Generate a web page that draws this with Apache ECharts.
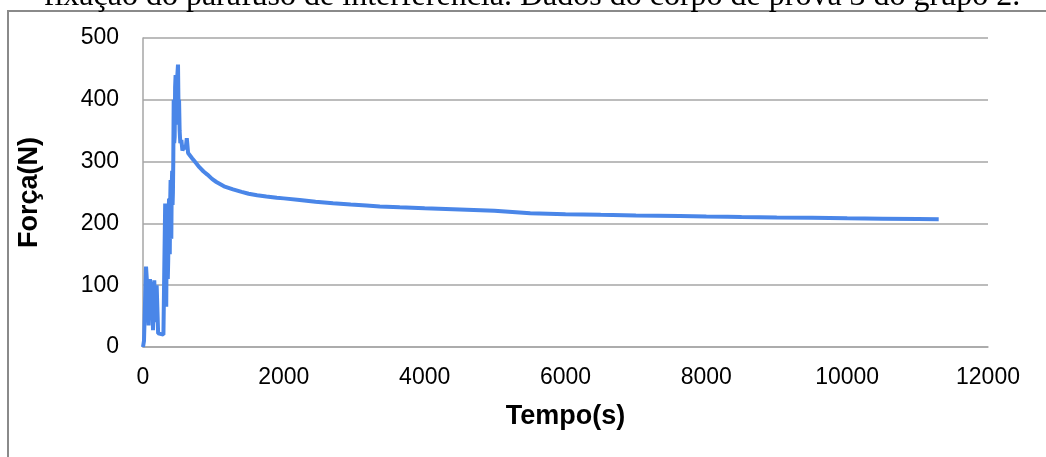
<!DOCTYPE html>
<html>
<head>
<meta charset="utf-8">
<script src="https://cdn.jsdelivr.net/npm/echarts@6/dist/echarts.min.js"></script>
<style>
html,body{margin:0;padding:0;background:#fff;}
#chart{width:1046px;height:457px;}
</style>
</head>
<body>
<div id="chart"></div>
<script>
const captionText = 'fixação do parafuso de interferência. Dados do corpo de prova 3 do grupo 2.';
const xAxisName = 'Tempo(s)';
const yAxisName = 'Força(N)';
const xTicks = [0, 2000, 4000, 6000, 8000, 10000, 12000];
const yTicks = [0, 100, 200, 300, 400, 500];

const timeS = [0, 14, 43, 62, 80, 99, 115, 130, 142, 160, 180, 194, 215, 240, 290,
  305, 315, 322, 330, 338, 345, 352, 358, 364, 370, 375, 380, 386, 392, 397, 402,
  408, 414, 420, 425, 430, 436, 443, 450, 456, 463, 470, 478, 488, 497,
  505, 512, 520, 530, 545, 560, 575, 590, 605, 622, 632, 640, 660, 700, 750, 800,
  860, 914, 980, 1042, 1150, 1278,
  1400, 1500, 1620, 1752, 1900, 2000, 2226, 2450, 2699, 2950, 3173, 3363, 3646,
  4000, 4500, 4990, 5010, 5500, 6000, 6500, 7000, 7623,
  8000, 8300, 8500, 9000, 9500, 10000, 10500, 11000, 11300];
const forceN = [0, 10, 130, 95, 35, 110, 45, 105, 27, 108, 40, 100, 22, 20, 20,
  150, 232, 120, 65, 200, 232, 110, 140, 220, 240, 170, 150, 235, 270, 190, 175,
  260, 285, 230, 250, 300, 400, 330, 340, 420, 440, 360, 375, 440, 457,
  380, 400, 350, 330, 335, 318, 322, 326, 320, 338, 325, 314, 311, 305, 298, 291,
  284, 279, 272, 267, 260, 255,
  251, 248, 245.5, 243.5, 241.5, 240.5, 238, 235, 232.5, 230.5, 229, 227.5, 226,
  224.5, 222.5, 220.5, 218.5, 216.5, 215, 213.8, 212.8, 211.8,
  211, 210.8, 210.3, 209.6, 209, 208.2, 207.6, 207, 206.6];

const seriesData = timeS.map((t, i) => [t, forceN[i]]);
const labelFont = '"Liberation Sans", Arial, sans-serif';

const chart = echarts.init(document.getElementById('chart'), null, {renderer: 'canvas'});
chart.setOption({
  animation: false,
  backgroundColor: '#ffffff',
  graphic: [
    {
      type: 'rect',
      shape: {x: 8, y: 11, width: 1200, height: 600},
      style: {fill: 'none', stroke: '#8a8a8a', lineWidth: 2},
      silent: true
    },
    {
      type: 'text',
      x: 532,
      y: 13,
      style: {
        text: captionText,
        align: 'center',
        verticalAlign: 'bottom',
        font: '32px "Liberation Serif", "Times New Roman", serif',
        fill: '#000'
      },
      silent: true
    }
  ],
  grid: {left: 143, right: 58, top: 38, bottom: 110, containLabel: false},
  xAxis: {
    type: 'value',
    min: xTicks[0],
    max: xTicks[xTicks.length - 1],
    interval: xTicks[1] - xTicks[0],
    name: xAxisName,
    nameLocation: 'middle',
    nameGap: 56,
    nameTextStyle: {fontFamily: labelFont, fontSize: 27, fontWeight: 'bold', color: '#000'},
    axisLine: {show: true, lineStyle: {color: '#a6a6a6', width: 1.5}},
    axisTick: {show: false},
    splitLine: {show: false},
    axisLabel: {fontFamily: labelFont, fontSize: 23, color: '#000', margin: 19,
      formatter: v => String(v)}
  },
  yAxis: {
    type: 'value',
    min: yTicks[0],
    max: yTicks[yTicks.length - 1],
    interval: yTicks[1] - yTicks[0],
    name: yAxisName,
    nameLocation: 'middle',
    nameGap: 100,
    nameTextStyle: {fontFamily: labelFont, fontSize: 27, fontWeight: 'bold', color: '#000'},
    axisLine: {show: true, lineStyle: {color: '#a6a6a6', width: 1.5}},
    axisTick: {show: false},
    splitLine: {show: true, lineStyle: {color: '#a6a6a6', width: 1.5}},
    axisLabel: {fontFamily: labelFont, fontSize: 23, color: '#000', margin: 24,
      formatter: v => String(v)}
  },
  series: [{
    type: 'line',
    data: seriesData,
    showSymbol: false,
    smooth: false,
    lineStyle: {color: '#4a86e8', width: 4},
    itemStyle: {color: '#4a86e8'}
  }]
});
</script>
</body>
</html>
